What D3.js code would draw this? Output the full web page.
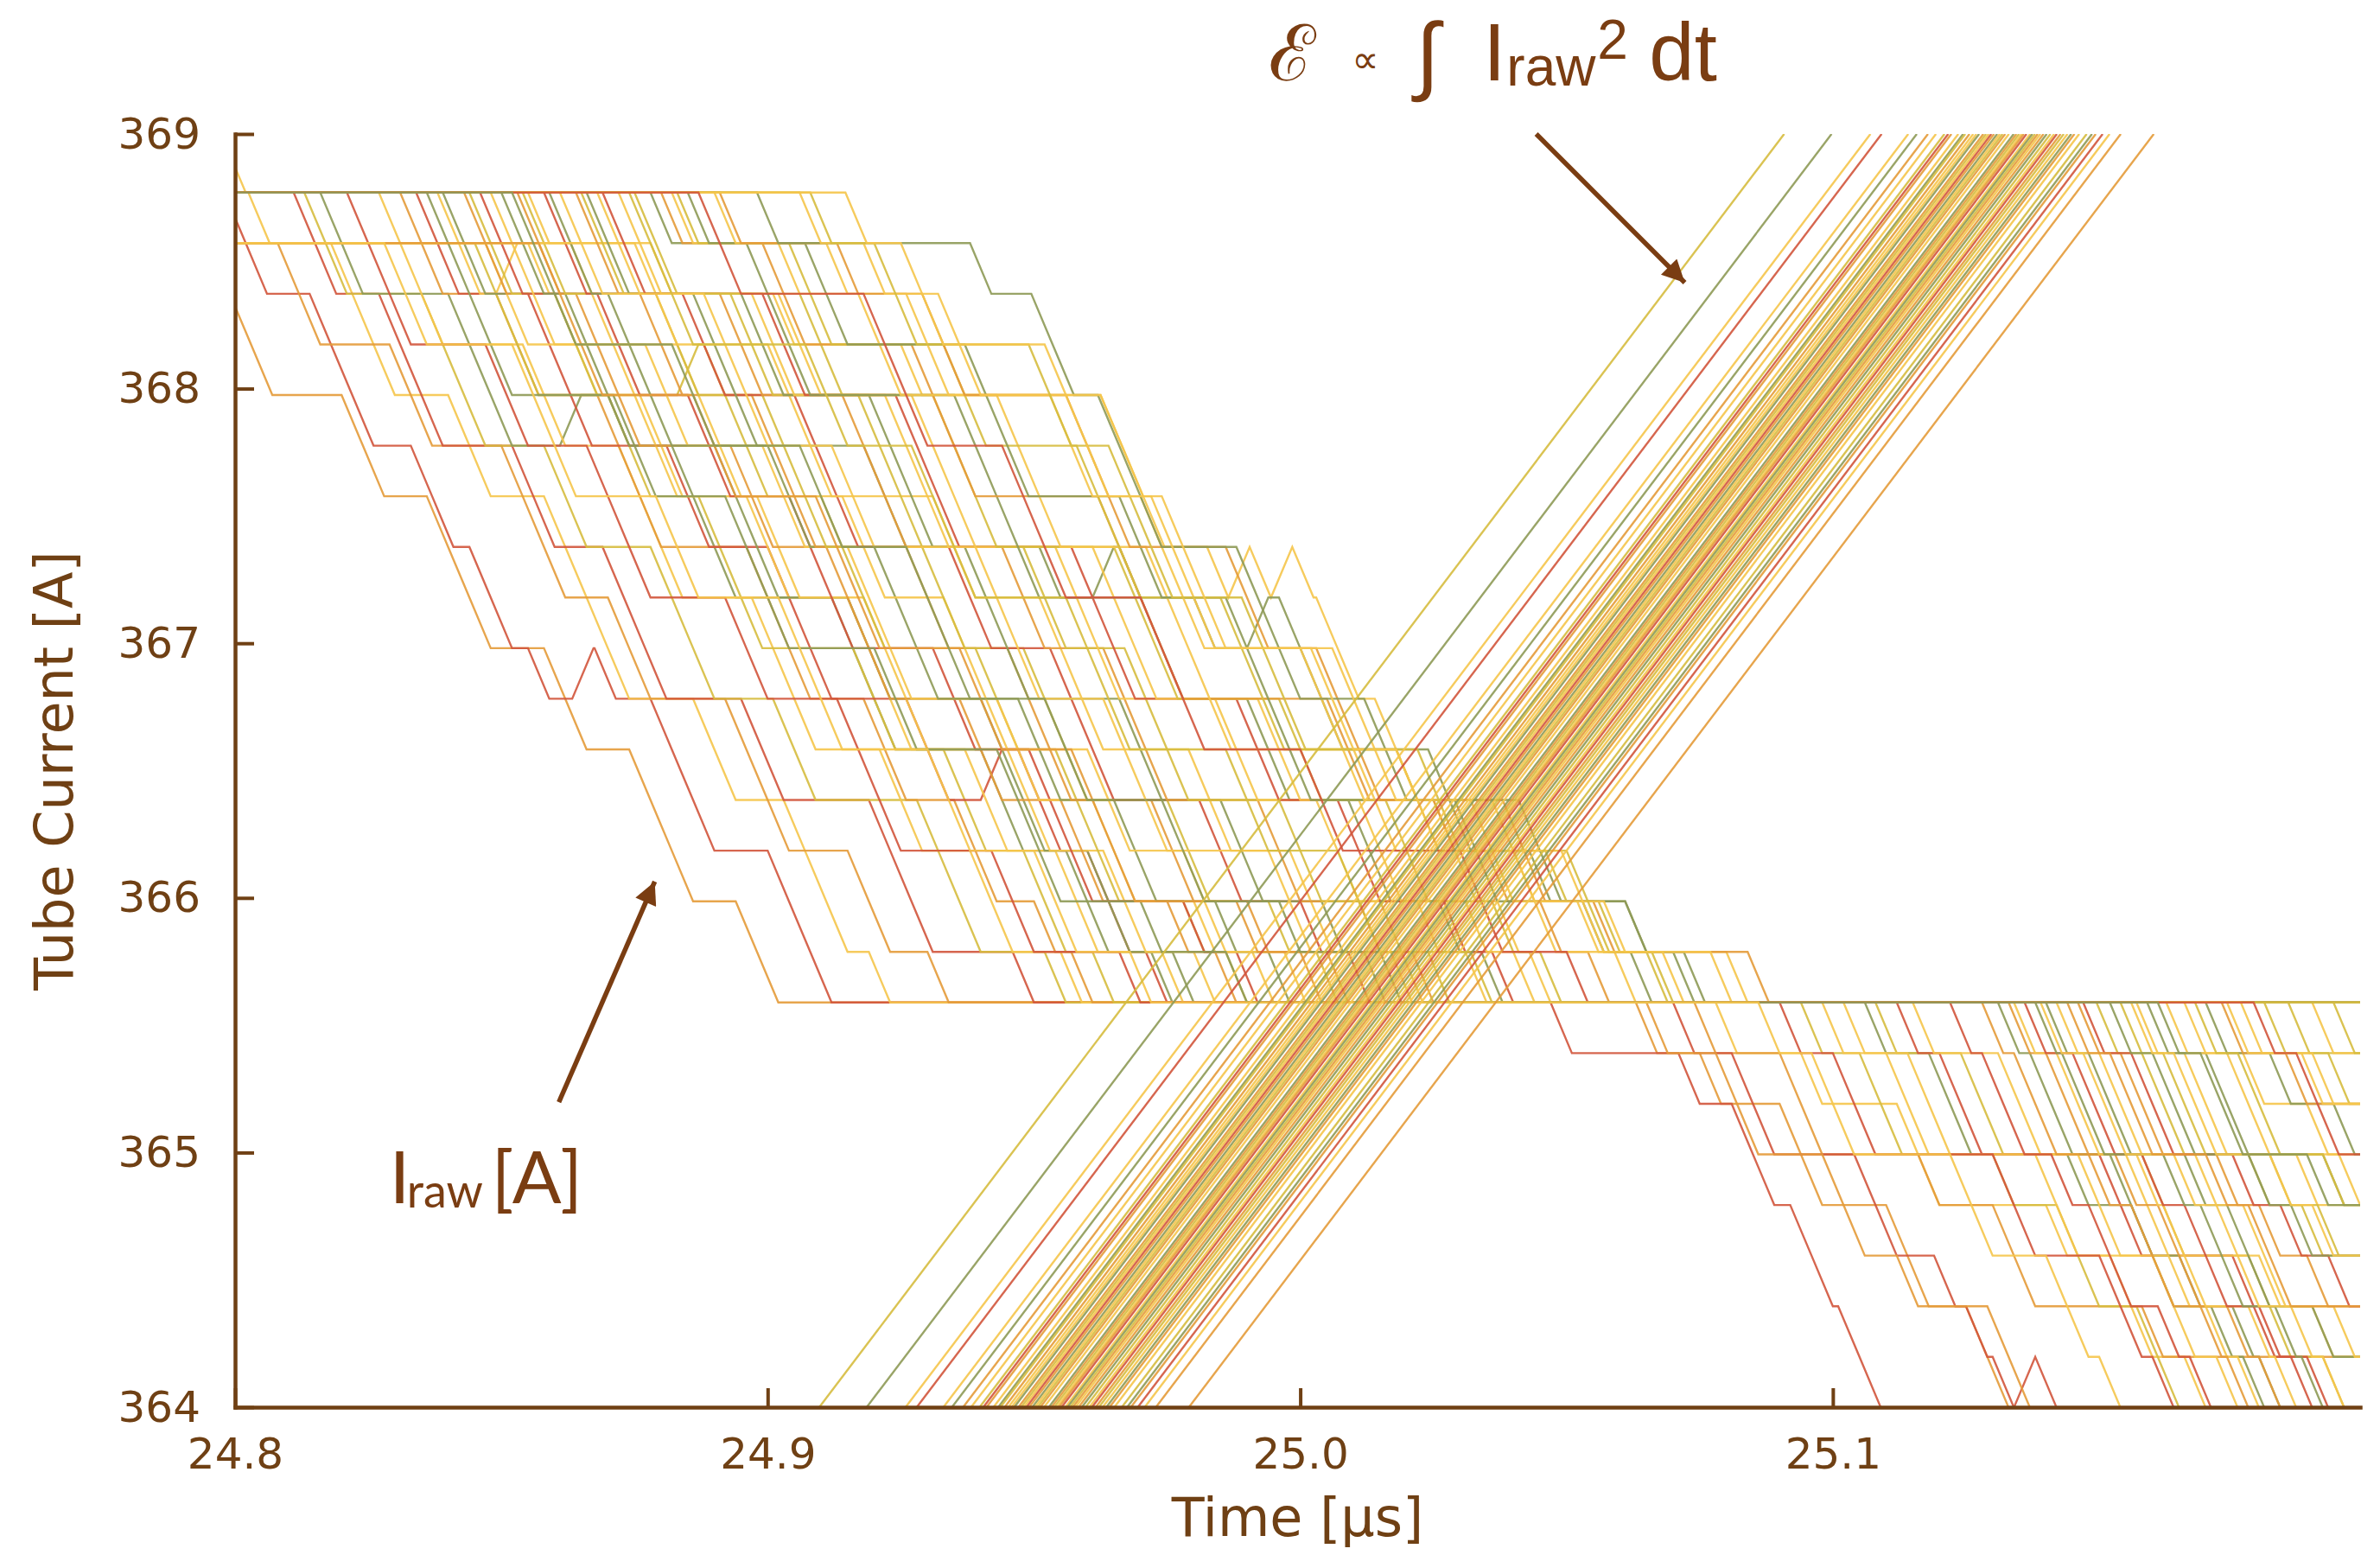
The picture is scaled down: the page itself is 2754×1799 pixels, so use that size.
<!DOCTYPE html>
<html>
<head>
<meta charset="utf-8">
<script src="https://cdn.jsdelivr.net/npm/d3@7"></script>
<style>
  html, body { margin: 0; padding: 0; background: #ffffff; }
  svg { display: block; }
</style>
</head>
<body>
<svg id="chart" width="2754" height="1799"></svg>
<script>
// ---------------------------------------------------------------------------
// Quantised tube-current traces and their energy integrals
// ---------------------------------------------------------------------------
const T_ORIGIN = 24.8;        // µs; every trace time below is in ns after this
const RAMP_NS = 4;            // ns the digitiser needs to slew one level
const LEVEL_TOP = 368.77;     // A, quantisation level 0
const LEVEL_STEP = 0.1988;    // A between adjacent levels
const RISE_A_PER_NS = 0.0276; // slope of the energy-integral lines

const xTicks = [24.8, 24.9, 25.0, 25.1];
const yTicks = [364, 365, 366, 367, 368, 369];

const palette = { r: "#d2553c", o: "#e49b3a", y: "#f5c54b", m: "#d6bd3f", g: "#8e9a56" };

// Level index each trace starts on at the left edge
const traceStartLevel = [2, 0, -1, 1, 0, 0, 0, 0, 0, 1, 0, 0, 0, 1, 0, 0, 0, 0, 0, 1, 0, 0, 0, 0, 0, 1,
                         0, 0, 0, 0, 0, 0, 0, 0, 0, 0, 0, 0, 0, 0, 0, 0, 0, 0, 0, 0, 1, 0, 0, 0, 0, 1];
const traceColor = ["o","r","y","o","r","m","g","y","o","m","r","y","g","y","o","m","r","y","g","y","o","m",
                    "y","r","g","y","o","m","g","y","r","y","m","g","o","y","m","g","y","o","g","y","m","y",
                    "r","g","o","y","m","r","g","y"];

// Times (ns) at which each trace starts stepping DOWN one level
const traceDownSteps = [
  [-1, 3, 20, 24, 36, 40, 44, 58, 62, 74, 78, 82, 94, 98, 263, 275, 290, 294, 310, 314, 325, 329],
  [-2, 2, 14, 18, 22, 33, 37, 44, 48, 55, 67.5, 78, 82, 86, 100, 104, 108, 247, 271, 281, 285, 292, 296, 301, 305],
  [-2, 2.5, 18, 22, 26, 40, 44, 58, 62, 66, 70, 86, 90, 103, 107, 111, 119, 278, 294, 312, 316, 340, 352, 356, 366],
  [8, 12, 29, 33, 50, 54, 58, 70, 74, 92, 96, 100, 115, 119, 130, 274, 290, 294, 316, 330, 334, 358],
  [11, 15, 27, 31, 35, 52, 56, 69, 73, 77, 95, 99, 119, 123, 127, 146, 270, 281, 285, 304, 308, 319, 325, 330, 338],
  [13, 17, 35, 39, 43, 58, 62, 78, 82, 86, 101, 105, 128, 132, 136, 152, 294, 305, 309, 330, 342, 346, 357, 361],
  [16, 20, 40, 44, 48, 70, 82, 86, 90, 112, 116, 120, 140, 144, 156, 160, 172, 306, 318, 322, 344, 356, 360, 375, 380],
  [27, 31, 35, 54, 58, 72, 76, 80, 97, 101, 105, 121, 125, 138, 142, 155, 298, 310, 314, 338, 342, 360, 364, 372],
  [31, 35, 49, 53, 68, 72, 76, 96, 100, 104, 118, 122, 135, 139, 150, 157, 265, 278, 282, 298, 302, 312, 329, 333],
  [45, 49, 53, 70, 74, 87, 91, 95, 116, 120, 133, 137, 148, 152, 161, 308, 324, 328, 358, 362, 378, 382, 392],
  [34, 38, 55, 59, 63, 81, 85, 100, 104, 108, 126, 130, 147, 151, 160, 164, 171, 312, 320, 324, 350, 354, 375, 379, 389],
  [38, 42, 55, 60, 64, 76, 80, 96, 100, 115, 119, 123, 137, 141, 154, 158, 174, 315, 331, 335, 355, 359, 380, 390],
  [39, 43, 62, 66, 70, 90, 94, 98, 115, 119, 140, 144, 148, 160, 164, 176, 331, 337, 341, 352, 356, 365, 371, 377],
  [47, 51, 71, 75, 79, 98, 102, 118, 122, 126, 145, 149, 163, 167, 180, 302, 314, 318, 346, 350, 363, 370, 376],
  [43, 47, 64, 68, 72, 93, 97, 111, 115, 119, 136, 140, 155, 159, 175, 184, 333, 340, 344, 353, 361, 365, 374, 380],
  [44, 48, 60, 64, 88, 92, 96, 110, 114, 118, 139, 143, 154, 158, 162, 178, 186, 385.5],
  [46, 50, 68, 72, 85, 89, 104, 108, 112, 131, 135, 149, 153, 157, 178, 188, 322, 328, 332, 341, 348, 352, 361, 367],
  [48, 52, 56, 77, 81, 99, 103, 115, 119, 123, 143, 147, 161, 165, 180, 191, 334, 342, 346, 357, 362, 366, 378, 383],
  [50, 54, 70, 74, 78, 100, 104, 120, 124, 128, 147, 151, 165, 169, 184, 194, 340, 348, 352, 366, 374, 378, 390],
  [63, 67, 83, 87, 91, 114, 118, 133, 137, 141, 160, 164, 178, 182, 197, 342, 350, 354, 368, 377, 381, 394],
  [53, 57, 76, 80, 97, 101, 105, 126, 130, 145, 149, 153, 172, 176, 190, 200, 346, 354, 358, 372, 380, 389],
  [54, 58, 79, 83, 99, 103, 107, 129, 133, 148, 152, 156, 175, 179, 194, 203, 349.5, 358, 362, 378, 388],
  [55, 78, 101, 125, 162.5, 166.5, 170.5, 182.5, 190.5, 198.5, 203, 207, 214, 218, 225, 229, 237, 243, 357, 366, 370, 387],
  [58, 62, 84, 88, 105, 109, 113, 134, 138, 153, 157, 161, 181, 185, 200, 209, 336, 345, 349, 358, 366, 370, 380, 386],
  [59, 63, 86, 90, 94, 118, 122, 137, 141, 145, 166, 170, 185, 189, 204, 212, 338, 343, 347, 362, 369, 373, 383, 388],
  [75, 79, 100, 104, 108, 131, 135, 151, 155, 159, 179, 183, 198, 202, 217, 339, 347, 351, 364, 372, 376, 386, 392],
  [64, 68, 91, 95, 114, 118, 122, 144, 148, 163, 167, 171, 192, 196, 211, 221, 328, 334, 338, 348, 356, 360, 369, 374],
  [65, 69, 93, 97, 117, 121, 125, 148, 152, 167, 171, 175, 196, 200, 215, 224, 354, 362, 366, 382, 391],
  [66, 70, 95, 99, 119, 123, 127, 151, 166, 170, 174, 190, 194, 209, 213, 226, 234, 359, 370, 374, 392],
  [68, 72, 97, 101, 122, 126, 130, 154, 158, 162, 184, 188, 203, 207, 222, 231, 362.6, 374, 378, 395],
  [69, 73, 99, 103, 124, 128, 132, 157, 161, 165, 188, 192, 207, 211, 227, 236, 347, 356, 360, 375, 384, 393],
  [72, 76, 102, 106, 127, 131, 135, 161, 165, 169, 192, 196, 211, 215, 231, 240, 366, 377, 389],
  [75, 79, 106, 110, 131, 135, 139, 165, 169, 173, 196, 200, 216, 220, 236, 245, 381, 393],
  [78, 96, 100, 104, 135, 139, 143, 147, 180, 196, 200, 204, 224, 228, 243, 253, 262, 370, 382, 394],
  [80, 99, 103, 127, 131, 135, 162, 166, 170, 174, 205, 209, 225, 235, 245, 254, 373, 385],
  [82, 102, 117, 121, 143, 147, 151, 171, 175, 179, 183, 210, 214, 240, 244, 259, 390],
  [83, 104, 108, 133, 137, 158, 162, 166, 185, 189, 193, 218, 222, 246, 256, 265, 394],
  [85, 107, 111, 137, 141, 145, 166, 170, 186, 190, 194, 198, 229, 233, 261, 270],
  [90, 111, 126, 130, 153, 157, 170, 174, 178, 200, 204, 208, 236, 240, 252, 280],
  [91, 113, 129, 133, 156, 160, 164, 186, 190, 203, 207, 211, 238, 242, 255, 284],
  [98, 138, 149.5, 153.5, 162, 166, 170, 188, 192, 196, 212, 216, 241, 245, 261, 272],
  [106, 118, 132, 136, 162.5, 166.5, 172, 176, 180, 206, 210, 214, 232, 236, 257, 268, 374, 388],
  [108, 120, 124, 149, 153, 164, 168, 172, 189, 193, 197, 222, 226, 250, 254, 266],
  [114.6, 125, 129, 152, 156, 160, 174, 178, 182, 202, 206, 218, 222, 249, 253, 277, 376.6, 390],
  [21, 25, 29, 47, 51, 66, 70, 74, 92, 96, 113, 117, 121, 142, 146, 166, 290, 300, 304, 330, 334, 350, 354, 360],
  [36, 40, 44, 48, 71, 75, 92, 96, 100, 120, 124, 143, 147, 151, 170, 186, 352, 360, 364, 378, 386],
  [57, 61, 65, 86, 90, 109, 113, 117, 136, 140, 157, 161, 165, 188, 205, 344, 352, 356, 370, 378, 382],
  [61, 65, 88, 92, 96, 112, 116, 139, 143, 147, 163, 167, 171, 194, 198, 219, 356, 364, 368, 382, 390],
  [74, 78, 82, 107, 111, 127, 131, 135, 156, 160, 164, 186, 190, 207, 211, 232, 368, 376, 380, 392],
  [87, 91, 118, 122, 126, 144, 148, 152, 170, 174, 178, 200, 204, 230, 234, 250, 379, 387, 391],
  [52, 56, 60, 82, 86, 106, 110, 126, 130, 134, 152, 156, 174, 178, 196, 215, 361, 369, 373, 389],
  [28, 32, 52, 56, 60, 79, 83, 102, 106, 110, 130, 134, 150, 154, 168, 286, 296, 300, 322, 326, 340, 344, 350]
];

// [trace index, time in ns] where a trace briefly steps UP one level
const traceUpSteps = [
  [1, 63.3], [4, 334], [6, 61], [10, 140], [11, 49], [15, 83],
  [22, 186.5], [22, 194.5], [28, 161], [33, 190]
];

// Energy-integral lines: time (ns) at which each one leaves 364 A
const riseStart = [109.7, 118.6, 125.9, 128, 133, 134.6, 136.7, 138.2, 139.8, 140.5, 141.1, 142.4,
  143.3, 143.7, 144.5, 145.2, 145.8, 146.3, 147.1, 147.6, 148.1, 148.6, 149.1, 149.7, 150.2, 150.7,
  151.2, 151.9, 152.8, 153.3, 153.8, 154.3, 154.7, 155.2, 155.9, 156.3, 156.8, 157.3, 157.8, 158.4,
  159, 159.7, 160.4, 160.9, 161.6, 162.2, 162.9, 163.6, 164.2, 165.1, 166.5, 167.5, 168.2, 169.5,
  170.8, 172.9, 179.1];
const riseColor = ["m","g","y","r","y","g","o","y","m","r","o","y","g","m","o","y","y","g","o","m",
  "y","r","o","g","y","m","o","y","g","o","m","y","o","r","y","g","m","o","y","o","g","m","y","r",
  "o","m","y","g","o","y","m","g","o","r","y","o","o"];

// ---------------------------------------------------------------------------
const svg = d3.select("#chart");
const AXIS = "#6f4014";
const INK = "#7a3d12";

const x = d3.scaleLinear().domain([24.8, 25.199]).range([272, 2731]);
const y = d3.scaleLinear().domain([364, 369]).range([1628, 155]);
const ns = v => T_ORIGIN + v / 1000;
const level = k => LEVEL_TOP - k * LEVEL_STEP;

const defs = svg.append("defs");
defs.append("clipPath").attr("id", "plot-clip")
  .append("rect")
  .attr("x", x.range()[0]).attr("y", y.range()[1])
  .attr("width", x.range()[1] - x.range()[0])
  .attr("height", y.range()[0] - y.range()[1]);

defs.append("marker")
  .attr("id", "head")
  .attr("viewBox", "0 0 10 10")
  .attr("refX", 10).attr("refY", 5)
  .attr("markerUnits", "userSpaceOnUse")
  .attr("markerWidth", 30).attr("markerHeight", 26)
  .attr("orient", "auto")
  .append("path").attr("d", "M0,0 L10,5 L0,10 Z").attr("fill", INK);

// Build the staircase vertices of one trace
function tracePoints(i) {
  const moves = traceDownSteps[i].map(t => ({ t, d: 1 }))
    .concat(traceUpSteps.filter(u => u[0] === i).map(u => ({ t: u[1], d: -1 })))
    .sort((a, b) => a.t - b.t);
  let k = traceStartLevel[i];
  const pts = [[ns(-8), level(k)]];
  for (const mv of moves) {
    pts.push([ns(mv.t), level(k)]);
    k += mv.d;
    pts.push([ns(mv.t + RAMP_NS), level(k)]);
  }
  pts.push([ns(410), level(k)]);
  return pts;
}

const line = d3.line().x(d => x(d[0])).y(d => y(d[1]));
const plot = svg.append("g").attr("clip-path", "url(#plot-clip)");

plot.append("g").attr("class", "traces")
  .selectAll("path")
  .data(traceDownSteps.map((_, i) => i))
  .join("path")
  .attr("d", i => line(tracePoints(i)))
  .attr("fill", "none")
  .attr("stroke", i => palette[traceColor[i]])
  .attr("stroke-width", 2.4)
  .attr("stroke-opacity", 0.9)
  .attr("stroke-linejoin", "miter");

const riseSpan = (369 - 364) / RISE_A_PER_NS;
plot.append("g").attr("class", "energy")
  .selectAll("path")
  .data(riseStart)
  .join("path")
  .attr("d", t0 => line([[ns(t0), 364], [ns(t0 + riseSpan), 369]]))
  .attr("fill", "none")
  .attr("stroke", (t0, i) => palette[riseColor[i]])
  .attr("stroke-width", 2.4)
  .attr("stroke-opacity", 0.9);

// ---------------------------------------------------------------------------
// Axes
const xAxis = svg.append("g")
  .attr("transform", `translate(0,${y(364)})`)
  .call(d3.axisBottom(x).tickValues(xTicks).tickFormat(d3.format(".1f"))
    .tickSizeInner(-22).tickSizeOuter(0).tickPadding(35));
const yAxis = svg.append("g")
  .attr("transform", `translate(${x(24.8)},0)`)
  .call(d3.axisLeft(y).tickValues(yTicks).tickFormat(d3.format("d"))
    .tickSizeInner(-22).tickSizeOuter(0).tickPadding(40));

[xAxis, yAxis].forEach(g => {
  g.select(".domain").attr("stroke", AXIS).attr("stroke-width", 4.5).attr("stroke-linecap", "square");
  g.selectAll(".tick line").attr("stroke", AXIS).attr("stroke-width", 4);
  g.selectAll(".tick text")
    .attr("fill", AXIS)
    .style("font-family", "'DejaVu Sans', sans-serif")
    .style("font-size", "50px");
});

svg.append("text")
  .attr("x", (x(24.8) + x(25.199)) / 2).attr("y", 1777)
  .attr("text-anchor", "middle")
  .attr("fill", AXIS)
  .style("font-family", "'DejaVu Sans', sans-serif").style("font-size", "62px")
  .text("Time [µs]");

svg.append("text")
  .attr("transform", `translate(84,${y(366.5)}) rotate(-90)`)
  .attr("text-anchor", "middle")
  .attr("fill", AXIS)
  .style("font-family", "'DejaVu Sans', sans-serif").style("font-size", "62px")
  .text("Tube Current [A]");

// ---------------------------------------------------------------------------
// Annotations
svg.append("line")
  .attr("x1", x(25.0443)).attr("y1", y(369))
  .attr("x2", x(25.0722)).attr("y2", y(368.416))
  .attr("stroke", INK).attr("stroke-width", 5.5)
  .attr("marker-end", "url(#head)");

svg.append("line")
  .attr("x1", x(24.8608)).attr("y1", y(365.198))
  .attr("x2", x(24.8788)).attr("y2", y(366.064))
  .attr("stroke", INK).attr("stroke-width", 5.5)
  .attr("marker-end", "url(#head)");

// Energy formula
const f = svg.append("g")
  .attr("transform", `translate(${x(24.9938)},${y(369.21)})`)
  .attr("fill", INK);
f.append("text").attr("x", 2).attr("y", 0)
  .style("font-family", "'DejaVu Serif', serif").style("font-size", "90px")
  .text("ℰ");
f.append("text").attr("x", 98).attr("y", -9)
  .style("font-family", "'DejaVu Sans', sans-serif").style("font-size", "44px")
  .text("∝");
f.append("text").attr("x", 172).attr("y", 4)
  .style("font-family", "'Liberation Sans', sans-serif").style("font-size", "100px")
  .text("∫");
f.append("text").attr("x", 250).attr("y", 0)
  .style("font-family", "'Liberation Sans', sans-serif").style("font-size", "94px")
  .text("I");
f.append("text").attr("x", 277).attr("y", 6)
  .style("font-family", "'Liberation Sans', sans-serif").style("font-size", "64px")
  .text("raw");
f.append("text").attr("x", 382).attr("y", -25)
  .style("font-family", "'Liberation Sans', sans-serif").style("font-size", "64px")
  .text("2");
f.append("text").attr("x", 442).attr("y", 0)
  .style("font-family", "'Liberation Sans', sans-serif").style("font-size", "94px")
  .text("dt");

// Raw current label
const r = svg.append("g")
  .attr("transform", `translate(${x(24.829)},${y(364.8)})`)
  .attr("fill", INK)
  .style("font-family", "Lato, sans-serif");
r.append("text").attr("x", 0).attr("y", 0).style("font-size", "84px").text("I");
r.append("text").attr("x", 20).attr("y", 5).style("font-size", "54px").text("raw");
r.append("text").attr("x", 118).attr("y", 0).style("font-size", "84px").text("[A]");
</script>
</body>
</html>
